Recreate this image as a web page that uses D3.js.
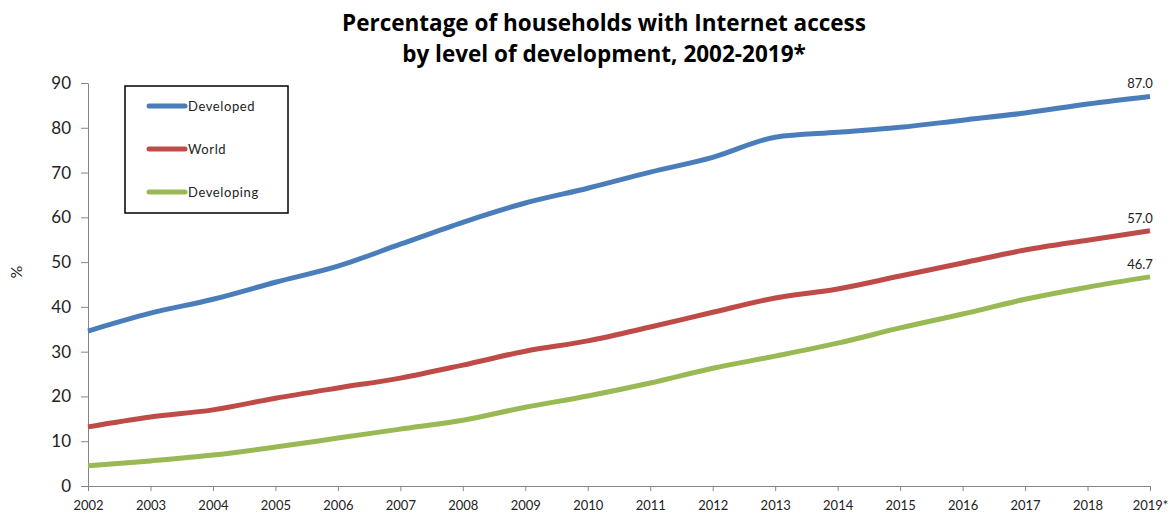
<!DOCTYPE html>
<html>
<head>
<meta charset="utf-8">
<script src="https://cdn.jsdelivr.net/npm/d3@7"></script>
<style>
  body { margin: 0; background: #fff; }
  svg { display: block; }
  text { font-family: Lato, "Open Sans", sans-serif; fill: #222; }
</style>
</head>
<body>
<div id="chart-area"></div>
<script>
// Data
var years = ["2002", "2003", "2004", "2005", "2006", "2007", "2008", "2009", "2010",
             "2011", "2012", "2013", "2014", "2015", "2016", "2017", "2018", "2019*"];
var developed  = [34.6, 38.6, 41.7, 45.5, 49.1, 54.0, 58.9, 63.2, 66.5, 70.1, 73.4, 77.9, 79.0, 80.1, 81.7, 83.3, 85.3, 87.0];
var world      = [13.2, 15.4, 17.0, 19.6, 21.9, 24.1, 27.0, 30.1, 32.4, 35.5, 38.8, 42.0, 44.0, 46.9, 49.8, 52.7, 54.9, 57.0];
var developing = [4.5, 5.6, 6.9, 8.7, 10.7, 12.7, 14.7, 17.6, 20.1, 23.0, 26.3, 29.0, 31.9, 35.3, 38.4, 41.7, 44.4, 46.7];
var yTicks = [0, 10, 20, 30, 40, 50, 60, 70, 80, 90];
var seriesNames = ["Developed", "World", "Developing"];
var seriesColors = ["#4a7ebb", "#be4b48", "#98b954"];

var margin = { left: 88, right: 24, top: 83, bottom: 31 };
var width = 1174 - margin.left - margin.right,
    height = 517 - margin.top - margin.bottom;

var svg = d3.select("#chart-area")
    .append("svg")
        .attr("width", 1174)
        .attr("height", 517);

var g = svg.append("g")
    .attr("transform", "translate(" + margin.left + "," + margin.top + ")");

// Title, two lines
var titleLines = ["Percentage of households with Internet access",
                  "by level of development, 2002-2019*"];
titleLines.forEach(function(t, i) {
    svg.append("text")
        .attr("x", 604)
        .attr("y", 31 + i * 31)
        .attr("text-anchor", "middle")
        .attr("font-size", "22.5px")
        .attr("font-weight", "bold")
        .style("font-family", "'Open Sans', sans-serif")
        .style("fill", "#000")
        .text(t);
});

// Scales
var x = d3.scalePoint()
    .domain(years)
    .range([0, width]);
var y = d3.scaleLinear()
    .domain([0, 90])
    .range([height, 0]);

// Axes
var xAxisCall = d3.axisBottom(x).tickSize(5).tickSizeOuter(0);
var xAxis = g.append("g")
    .attr("transform", "translate(0," + height + ")")
    .call(xAxisCall);
xAxis.selectAll("text")
    .attr("font-size", "13px")
    .attr("dy", "1.25em")
    .style("fill", "#222");

var yAxisCall = d3.axisLeft(y).tickValues(yTicks).tickSize(7).tickSizeOuter(0).tickPadding(10);
var yAxis = g.append("g").call(yAxisCall);
yAxis.selectAll("text")
    .attr("font-size", "17px")
    .style("fill", "#222");

g.selectAll(".domain, .tick line")
    .attr("stroke", "#868686");

// Y label
svg.append("text")
    .attr("transform", "translate(22,272) rotate(-90)")
    .attr("text-anchor", "middle")
    .attr("font-size", "16px")
    .text("%");

// Lines
var allSeries = [developed, world, developing];
var line = d3.line()
    .x(function(d, i) { return x(years[i]); })
    .y(function(d) { return y(d); })
    .curve(d3.curveMonotoneX);

allSeries.forEach(function(values, i) {
    g.append("path")
        .datum(values)
        .attr("fill", "none")
        .attr("stroke", seriesColors[i])
        .attr("stroke-width", 5)
        .attr("d", line);

    var last = values.length - 1;
    g.append("text")
        .attr("x", x(years[last]) - 10)
        .attr("y", y(values[last]) - 8)
        .attr("text-anchor", "middle")
        .attr("font-size", "13px")
        .text(values[last].toFixed(1));
});

// Legend
var legend = svg.append("g")
    .attr("transform", "translate(125,86)");
legend.append("rect")
    .attr("width", 163)
    .attr("height", 127)
    .attr("fill", "#fff")
    .attr("stroke", "#000")
    .attr("stroke-width", 1.5);

seriesNames.forEach(function(name, i) {
    var row = legend.append("g")
        .attr("transform", "translate(0," + (20 + i * 43) + ")");
    row.append("line")
        .attr("x1", 24)
        .attr("x2", 60)
        .attr("stroke", seriesColors[i])
        .attr("stroke-width", 5)
        .attr("stroke-linecap", "round");
    row.append("text")
        .attr("x", 63)
        .attr("y", 5)
        .attr("font-size", "13px")
        .style("letter-spacing", "0.6px")
        .text(name);
});
</script>
</body>
</html>
